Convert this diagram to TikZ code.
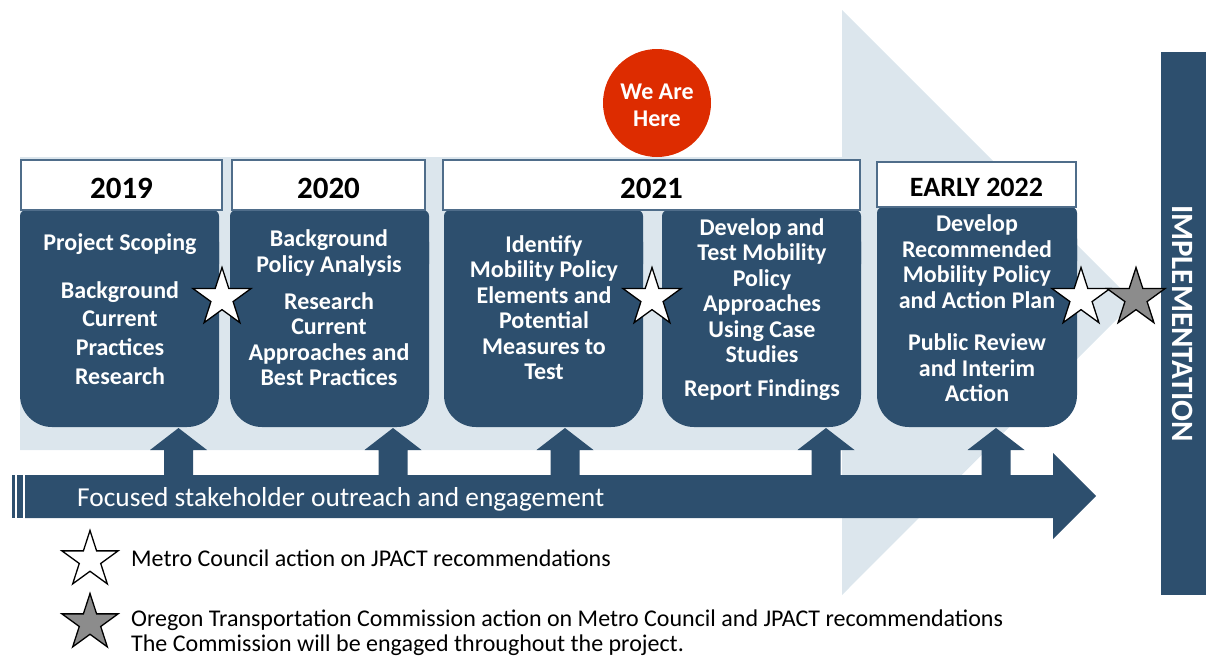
\documentclass[tikz,border=0pt]{standalone}
\usepackage{fontspec}
\setmainfont{Carlito}
\usetikzlibrary{shapes.geometric}
\definecolor{navy}{HTML}{2D4F6E}
\definecolor{pale}{HTML}{DCE6ED}
\definecolor{herered}{HTML}{DD2C00}
\definecolor{hdrline}{HTML}{4F6D8A}
\definecolor{stargray}{HTML}{8C8C8C}
\begin{document}
\begin{tikzpicture}[x=1pt,y=-1pt,
  hdr/.style={draw=hdrline, line width=1.3pt, fill=white},
  yeartxt/.style={font=\bfseries\fontsize{31}{33}\selectfont, text=black, inner sep=0},
  boxtxt/.style={font=\bfseries\fontsize{24}{25.5}\selectfont, text=white, align=center, inner sep=0},
  boxtxtw/.style={font=\bfseries\fontsize{24}{28.7}\selectfont, text=white, align=center, inner sep=0},
  mstar/.style={star, star points=5, star point ratio=2.618, minimum size=61pt, inner sep=0pt, draw=black, line width=1.3pt},
  legtxt/.style={font=\fontsize{24}{25}\selectfont, text=black, anchor=west, inner sep=0, align=left}
]
\useasboundingbox (0,0) rectangle (1206,656);
% big pale arrow
\fill[pale] (20,157) -- (842,157) -- (842,10) -- (1134,302) -- (842,595) -- (842,450) -- (20,450) -- cycle;
% implementation bar
\fill[navy] (1161,52) rectangle (1206,595);
\node[rotate=-90, font=\bfseries\fontsize{31}{33}\selectfont, text=white, inner sep=0] (impl) at (1183,323.5) {IMPLEMENTATION};
% dark boxes
\foreach \xa/\xb/\ya in {20/219/210, 230/429/210, 444/643/210, 662/861/210, 877/1077/207}{
  \fill[navy, rounded corners=32pt] (\xa,\ya) rectangle (\xb,427);
  \fill[navy, rounded corners=6pt] (\xa,\ya) rectangle (\xb,\ya+60);
}
% headers
\node[hdr, minimum width=201pt, minimum height=50pt, inner sep=0] (h1) at (121.5,185) {};
\node[hdr, minimum width=193pt, minimum height=50pt, inner sep=0] (h2) at (328.5,185) {};
\node[hdr, minimum width=417pt, minimum height=50pt, inner sep=0] (h3) at (651.5,185) {};
\node[hdr, minimum width=199pt, minimum height=45pt, inner sep=0] (h4) at (976.5,184.5) {};
\node[yeartxt] (y1) at ([yshift=-3pt]h1) {2019};
\node[yeartxt] (y2) at ([yshift=-3pt]h2) {2020};
\node[yeartxt] (y3) at ([yshift=-3pt]h3) {2021};
\node[yeartxt, font=\bfseries\fontsize{28}{30}\selectfont] (y4) at ([yshift=-3pt]h4) {EARLY 2022};
% box texts
\node[boxtxt] (t1a) at (120,244) {Project Scoping};
\node[boxtxtw] (t1b) at (120,333) {Background\\Current\\Practices\\Research};
\node[boxtxt] (t2a) at (329,253) {Background\\Policy Analysis};
\node[boxtxt] (t2b) at (329,339) {Research\\Current\\Approaches and\\Best Practices};
\node[boxtxt] (t3) at (544,307.5) {Identify\\Mobility Policy\\Elements and\\Potential\\Measures to\\Test};
\node[boxtxt] (t4a) at (762,290.5) {Develop and\\Test Mobility\\Policy\\Approaches\\Using Case\\Studies};
\node[boxtxt] (t4b) at (762,390) {Report Findings};
\node[boxtxt] (t5a) at (977,261.5) {Develop\\Recommended\\Mobility Policy\\and Action Plan};
\node[boxtxt] (t5b) at (977,368) {Public Review\\and Interim\\Action};
% up arrows
\foreach \cx in {178.5,393,565,826,996}{
  \fill[navy] (\cx,428) -- (\cx+28.5,450) -- (\cx+14.5,450) -- (\cx+14.5,476) -- (\cx-14.5,476) -- (\cx-14.5,450) -- (\cx-28.5,450) -- cycle;
}
% main arrow
\fill[navy] (12,475) rectangle (15,518);
\fill[navy] (17,475) rectangle (23,518);
\fill[navy] (25,475) -- (1053,475) -- (1053,453) -- (1096,496) -- (1053,539) -- (1053,518) -- (25,518) -- cycle;
\node[font=\fontsize{27.4}{29}\selectfont, text=white, anchor=west, inner sep=0] (outreach) at (77,499) {Focused stakeholder outreach and engagement};
% we are here
\node[circle, fill=herered, minimum size=108pt, inner sep=0] (here) at (657,103) {};
\node[text=white, align=center, inner sep=0, font=\bfseries\fontsize{24}{27}\selectfont] (heretxt) at ([yshift=-2pt]here) {We Are\\Here};
% stars
\node[mstar, fill=white] (s1) at (222,298) {};
\node[mstar, fill=white] (s2) at (652,298) {};
\node[mstar, fill=white] (s3) at (1081,298) {};
\node[mstar, fill=stargray] (s4) at (1136,298) {};
% legend
\node[mstar, fill=white, minimum size=59pt] (ls1) at (90,560) {};
\node[mstar, fill=stargray, minimum size=59pt] (ls2) at (90,623) {};
\node[legtxt] (lt1) at (131,558) {Metro Council action on JPACT recommendations};
\node[legtxt, anchor=north west] (lt2) at (131,610) {Oregon Transportation Commission action on Metro Council and JPACT recommendations\\The Commission will be engaged throughout the project.};
\end{tikzpicture}
\end{document}
